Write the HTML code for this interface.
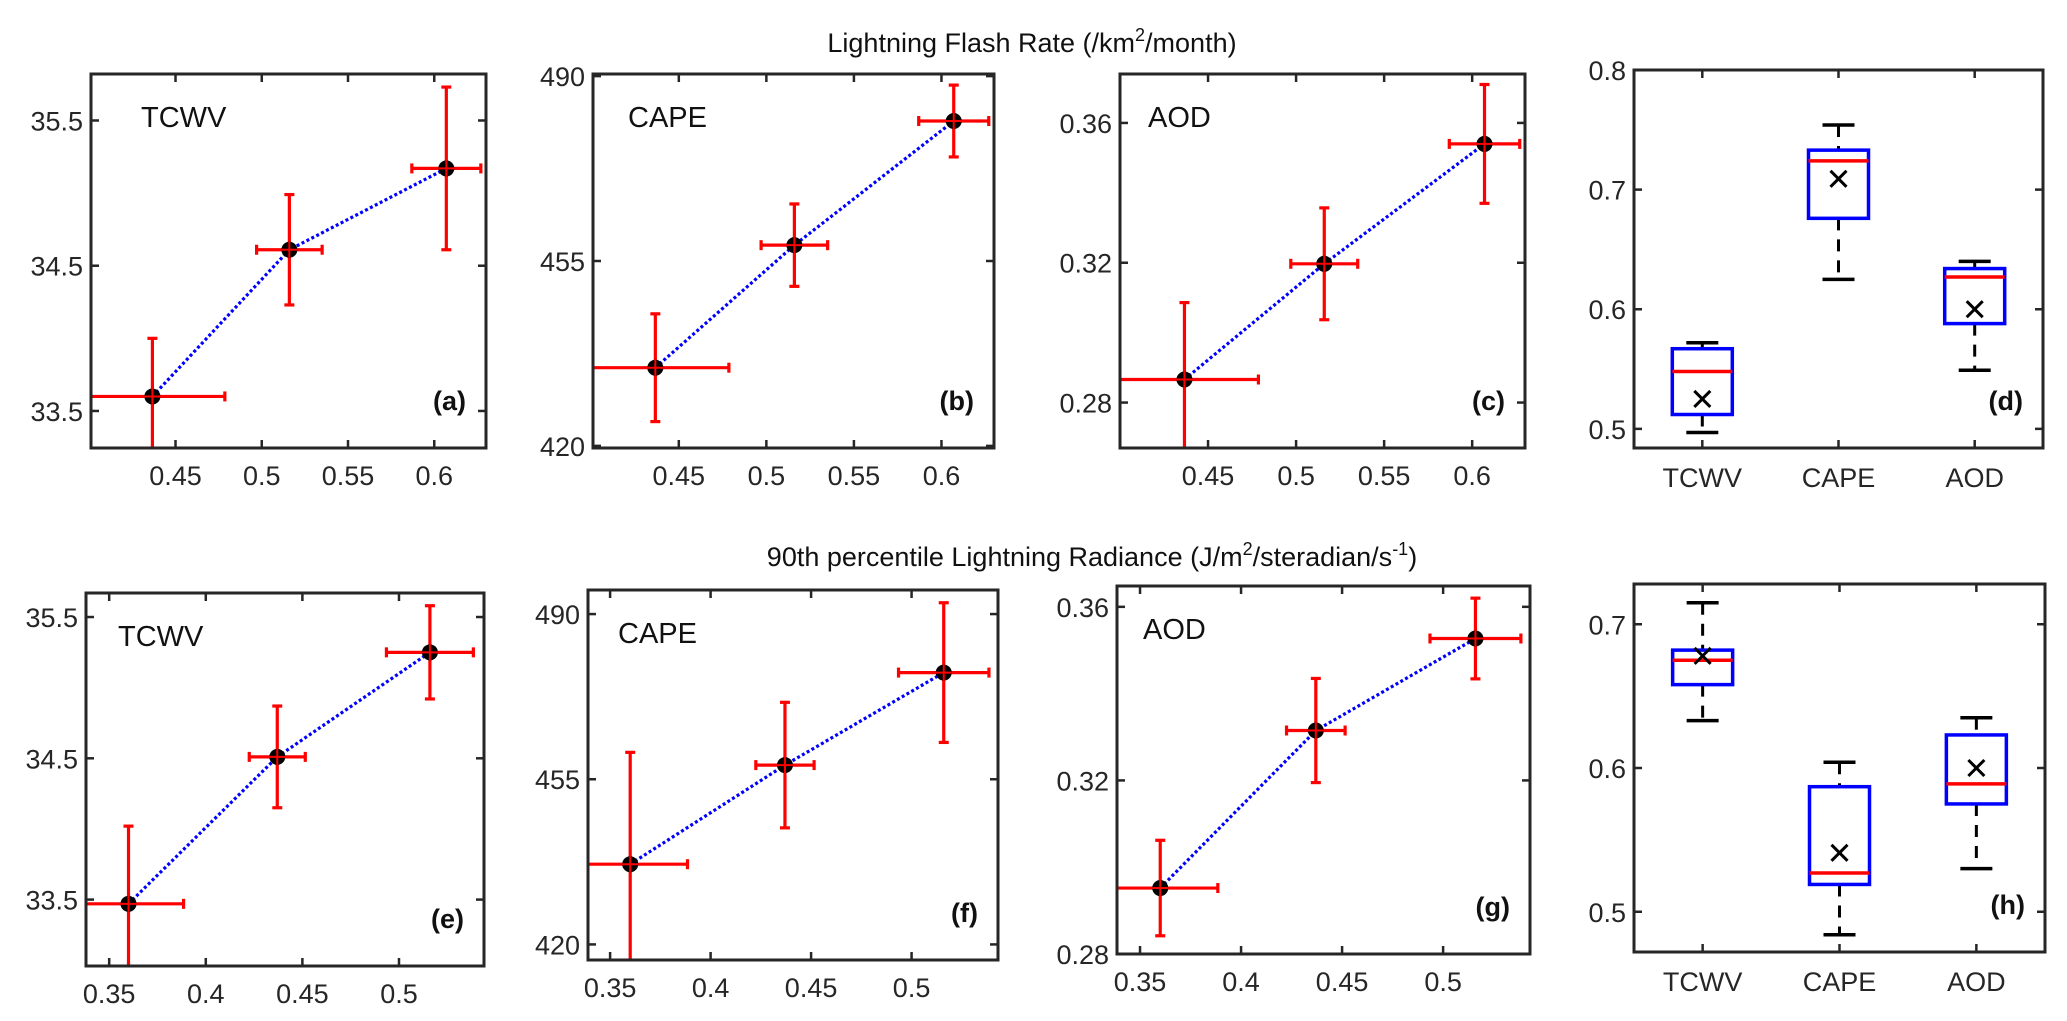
<!DOCTYPE html>
<html><head><meta charset="utf-8"><style>
html,body{margin:0;padding:0;background:#fff;}
svg{display:block;font-family:"Liberation Sans",Arial,sans-serif;}
</style></head><body>
<svg id="fig" width="2067" height="1021" viewBox="0 0 2067 1021" xmlns="http://www.w3.org/2000/svg">
<text x="1032" y="52" font-size="27" text-anchor="middle" fill="#111">Lightning Flash Rate (/km<tspan dy="-11" font-size="18">2</tspan><tspan dy="11">/month)</tspan></text>
<text x="1092" y="566" font-size="27" text-anchor="middle" fill="#111">90th percentile Lightning Radiance (J/m<tspan dy="-11" font-size="18">2</tspan><tspan dy="11">/steradian/s</tspan><tspan dy="-11" font-size="18">-1</tspan><tspan dy="11">)</tspan></text>
</svg>
<script>
// ---- data ----
const xTop = [0.4366, 0.516, 0.607];
const xTopErr = [0.042, 0.019, 0.020];
const xBot = [0.360, 0.437, 0.516];
const xBotErr = [0.0285, 0.0145, 0.0225];
const yA = [33.6, 34.61, 35.17];   const yAErr = [0.40, 0.38, 0.56];
const yB = [434.8, 458.0, 481.5];  const yBErr = [10.2, 7.8, 6.8];
const yC = [0.2866, 0.3197, 0.354]; const yCErr = [0.022, 0.016, 0.017];
const yE = [33.47, 34.51, 35.25];  const yEErr = [0.55, 0.36, 0.33];
const yF = [437.0, 458.0, 477.6];  const yFErr = [23.7, 13.3, 14.8];
const yG = [0.2952, 0.3315, 0.3527]; const yGErr = [0.011, 0.012, 0.0093];
const xTicksTop = [0.45, 0.5, 0.55, 0.6];
const xTicksBot = [0.35, 0.4, 0.45, 0.5];
const ticksTCWV = [33.5, 34.5, 35.5];
const ticksCAPE = [420, 455, 490];
const ticksAOD = [0.28, 0.32, 0.36];
const boxCats = ['TCWV', 'CAPE', 'AOD'];
// [whiskerLow, q1, median, q3, whiskerHigh, mean]
const boxD_TCWV = [0.497, 0.512, 0.548, 0.567, 0.572, 0.525];
const boxD_CAPE = [0.625, 0.676, 0.724, 0.733, 0.754, 0.709];
const boxD_AOD  = [0.549, 0.588, 0.627, 0.634, 0.640, 0.600];
const boxH_TCWV = [0.633, 0.658, 0.675, 0.682, 0.715, 0.678];
const boxH_CAPE = [0.484, 0.519, 0.527, 0.587, 0.604, 0.541];
const boxH_AOD  = [0.530, 0.575, 0.589, 0.623, 0.635, 0.600];
const boxTicksD = [0.5, 0.6, 0.7, 0.8];
const boxTicksH = [0.5, 0.6, 0.7];

const svg = document.getElementById('fig');
const NS = 'http://www.w3.org/2000/svg';
function mk(tag, attrs, parent) {
  const e = document.createElementNS(NS, tag);
  for (const k in attrs) e.setAttribute(k, attrs[k]);
  (parent || svg).appendChild(e);
  return e;
}
function fmt(v){ return String(+v.toFixed(3)); }

function axesFrame(g, L, R, T, B, name) {
  const fr = mk('rect', {x:L, y:T, width:R-L, height:B-T, fill:'none', stroke:'#262626', 'stroke-width':3}, g);
  
  
}

function errPanel(o) {
  const g = mk('g', {});
  
  
  const sx = v => o.L + (v - o.x0) / (o.x1 - o.x0) * (o.R - o.L);
  const sy = v => o.B - (v - o.y0) / (o.y1 - o.y0) * (o.B - o.T);
  const clipId = 'clip-' + o.name;
  const cp = mk('clipPath', {id: clipId}, g);
  mk('rect', {x:o.L, y:o.T, width:o.R-o.L, height:o.B-o.T}, cp);
  const plot = mk('g', {'clip-path':'url(#' + clipId + ')'}, g);
  const pts = o.xs.map((x, i) => sx(x) + ',' + sy(o.ys[i])).join(' ');
  const ln = mk('polyline', {points:pts, fill:'none', stroke:'#0000ff', 'stroke-width':3.2, 'stroke-dasharray':'3 2.5'}, plot);
  
  
  o.xs.forEach((x, i) => {
    const cx = sx(x), cy = sy(o.ys[i]);
    const yt = sy(o.ys[i] + o.ye[i]), yb = sy(o.ys[i] - o.ye[i]);
    const xl = sx(x - o.xe[i]), xr = sx(x + o.xe[i]);
    const eg = mk('g', {stroke:'#ff0000', 'stroke-width':3.2}, plot);
    
    
    mk('line', {x1:cx, y1:yt, x2:cx, y2:yb}, eg);
    mk('line', {x1:cx-5, y1:yt, x2:cx+5, y2:yt}, eg);
    mk('line', {x1:cx-5, y1:yb, x2:cx+5, y2:yb}, eg);
    mk('line', {x1:xl, y1:cy, x2:xr, y2:cy}, eg);
    mk('line', {x1:xl, y1:cy-5, x2:xl, y2:cy+5}, eg);
    mk('line', {x1:xr, y1:cy-5, x2:xr, y2:cy+5}, eg);
    const c = mk('circle', {cx:cx, cy:cy, r:8, fill:'#000'}, plot);
    
    
    mk('line', {x1:cx-8, y1:cy, x2:cx+8, y2:cy, stroke:'#ff0000', 'stroke-width':2}, plot);
    mk('line', {x1:cx, y1:cy-8, x2:cx, y2:cy+8, stroke:'#ff0000', 'stroke-width':2}, plot);
  });
  axesFrame(g, o.L, o.R, o.T, o.B, o.name);
  o.xticks.forEach(v => {
    const x = sx(v);
    mk('line', {x1:x, y1:o.B, x2:x, y2:o.B-8, stroke:'#262626', 'stroke-width':2.5}, g);
    mk('line', {x1:x, y1:o.T, x2:x, y2:o.T+8, stroke:'#262626', 'stroke-width':2.5}, g);
    const t = mk('text', {x:x, y:o.B+37, 'font-size':27, 'text-anchor':'middle', fill:'#262626'}, g);
    t.textContent = fmt(v);
    
    
  });
  o.yticks.forEach(v => {
    const y = sy(v);
    mk('line', {x1:o.L, y1:y, x2:o.L+8, y2:y, stroke:'#262626', 'stroke-width':2.5}, g);
    mk('line', {x1:o.R, y1:y, x2:o.R-8, y2:y, stroke:'#262626', 'stroke-width':2.5}, g);
    const t = mk('text', {x:o.L-8, y:y+10, 'font-size':27, 'text-anchor':'end', fill:'#262626'}, g);
    t.textContent = (o.ydec ? v.toFixed(o.ydec) : String(v));
    
    
  });
  const lab = mk('text', {x:o.L+o.labDx, y:o.T+53, 'font-size':29, fill:'#111'}, g);
  lab.textContent = o.label;
  
  
  const pl = mk('text', {x:o.R-20, y:o.B-38, 'font-size':27, 'font-weight':'bold', 'text-anchor':'end', fill:'#111'}, g);
  pl.textContent = o.panel;
  
  
}

function boxPanel(o) {
  const g = mk('g', {});
  
  
  const sy = v => o.B - (v - o.y0) / (o.y1 - o.y0) * (o.B - o.T);
  const cxs = [o.L + 0.167*(o.R-o.L), o.L + 0.5*(o.R-o.L), o.L + 0.833*(o.R-o.L)];
  axesFrame(g, o.L, o.R, o.T, o.B, o.name);
  o.boxes.forEach((b, i) => {
    const cx = cxs[i], hw = 30;
    const bg = mk('g', {}, g);
    
    
    mk('line', {x1:cx, y1:sy(b[4]), x2:cx, y2:sy(b[3]), stroke:'#000', 'stroke-width':3, 'stroke-dasharray':'12 9'}, bg);
    mk('line', {x1:cx, y1:sy(b[1]), x2:cx, y2:sy(b[0]), stroke:'#000', 'stroke-width':3, 'stroke-dasharray':'12 9'}, bg);
    mk('line', {x1:cx-16, y1:sy(b[4]), x2:cx+16, y2:sy(b[4]), stroke:'#000', 'stroke-width':3.5}, bg);
    mk('line', {x1:cx-16, y1:sy(b[0]), x2:cx+16, y2:sy(b[0]), stroke:'#000', 'stroke-width':3.5}, bg);
    mk('rect', {x:cx-hw, y:sy(b[3]), width:2*hw, height:sy(b[1])-sy(b[3]), fill:'none', stroke:'#0000ff', 'stroke-width':3.5}, bg);
    mk('line', {x1:cx-hw, y1:sy(b[2]), x2:cx+hw, y2:sy(b[2]), stroke:'#ff0000', 'stroke-width':3.5}, bg);
    const m = sy(b[5]);
    mk('line', {x1:cx-8, y1:m-8, x2:cx+8, y2:m+8, stroke:'#000', 'stroke-width':3}, bg);
    mk('line', {x1:cx-8, y1:m+8, x2:cx+8, y2:m-8, stroke:'#000', 'stroke-width':3}, bg);
    mk('line', {x1:cx, y1:o.B, x2:cx, y2:o.B-8, stroke:'#262626', 'stroke-width':2.5}, g);
    mk('line', {x1:cx, y1:o.T, x2:cx, y2:o.T+8, stroke:'#262626', 'stroke-width':2.5}, g);
    const t = mk('text', {x:cx, y:o.B+39, 'font-size':27, 'text-anchor':'middle', fill:'#262626'}, g);
    t.textContent = boxCats[i];
    
    
  });
  o.yticks.forEach(v => {
    const y = sy(v);
    mk('line', {x1:o.L, y1:y, x2:o.L+8, y2:y, stroke:'#262626', 'stroke-width':2.5}, g);
    mk('line', {x1:o.R, y1:y, x2:o.R-8, y2:y, stroke:'#262626', 'stroke-width':2.5}, g);
    const t = mk('text', {x:o.L-8, y:y+10, 'font-size':27, 'text-anchor':'end', fill:'#262626'}, g);
    t.textContent = v.toFixed(1);
    
    
  });
  const pl = mk('text', {x:o.R-20, y:o.B-38, 'font-size':27, 'font-weight':'bold', 'text-anchor':'end', fill:'#111'}, g);
  pl.textContent = o.panel;
  
  
}

errPanel({name:'panel-a', L:91, R:486, T:74, B:448, x0:0.401, x1:0.630, y0:33.245, y1:35.82, xs:xTop, xe:xTopErr, ys:yA, ye:yAErr, xticks:xTicksTop, yticks:ticksTCWV, ydec:1, label:'TCWV', labDx:50, panel:'(a)'});
errPanel({name:'panel-b', L:593, R:994, T:74, B:448, x0:0.401, x1:0.630, y0:419.6, y1:490.4, xs:xTop, xe:xTopErr, ys:yB, ye:yBErr, xticks:xTicksTop, yticks:ticksCAPE, ydec:0, label:'CAPE', labDx:35, panel:'(b)'});
errPanel({name:'panel-c', L:1120, R:1525, T:74, B:448, x0:0.400, x1:0.630, y0:0.267, y1:0.374, xs:xTop, xe:xTopErr, ys:yC, ye:yCErr, xticks:xTicksTop, yticks:ticksAOD, ydec:2, label:'AOD', labDx:28, panel:'(c)'});
boxPanel({name:'panel-d', L:1634, R:2043, T:70, B:448, y0:0.484, y1:0.8, boxes:[boxD_TCWV, boxD_CAPE, boxD_AOD], yticks:boxTicksD, panel:'(d)'});
errPanel({name:'panel-e', L:86, R:484, T:593, B:966, x0:0.338, x1:0.544, y0:33.03, y1:35.67, xs:xBot, xe:xBotErr, ys:yE, ye:yEErr, xticks:xTicksBot, yticks:ticksTCWV, ydec:1, label:'TCWV', labDx:32, panel:'(e)'});
errPanel({name:'panel-f', L:588, R:998, T:590, B:960, x0:0.339, x1:0.543, y0:416.7, y1:495.1, xs:xBot, xe:xBotErr, ys:yF, ye:yFErr, xticks:xTicksBot, yticks:ticksCAPE, ydec:0, label:'CAPE', labDx:30, panel:'(f)'});
errPanel({name:'panel-g', L:1117, R:1530, T:586, B:954, x0:0.3386, x1:0.543, y0:0.28, y1:0.3648, xs:xBot, xe:xBotErr, ys:yG, ye:yGErr, xticks:xTicksBot, yticks:ticksAOD, ydec:2, label:'AOD', labDx:26, panel:'(g)'});
boxPanel({name:'panel-h', L:1634, R:2045, T:584, B:952, y0:0.472, y1:0.728, boxes:[boxH_TCWV, boxH_CAPE, boxH_AOD], yticks:boxTicksH, panel:'(h)'});
</script>
</body></html>
